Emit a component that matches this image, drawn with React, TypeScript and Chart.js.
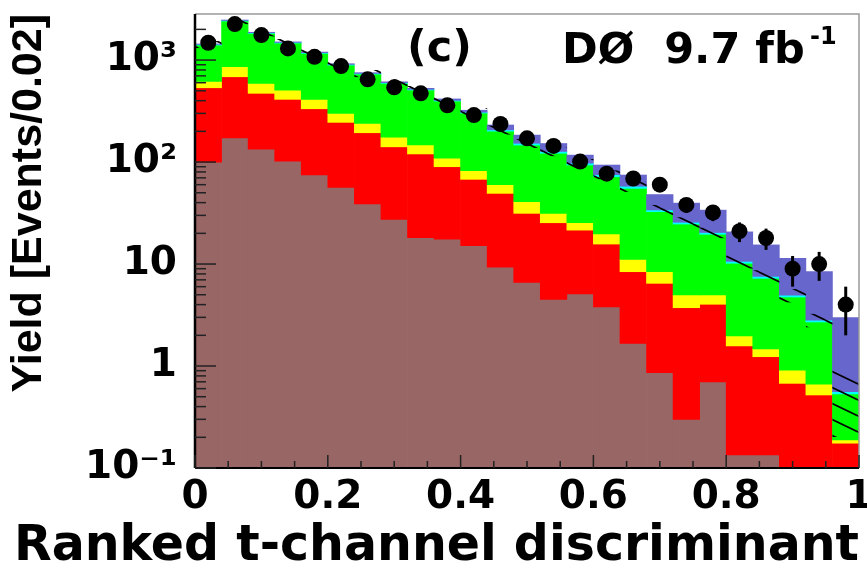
import { useEffect, useRef } from 'react';
import { Chart, registerables } from 'chart.js';

Chart.register(...registerables);

// ---- binning ----
const binLow = 0;
const binWidth = 0.04;
const nBins = 25;

// ---- tick labels / titles ----
const xTickLabels = ['0', '0.2', '0.4', '0.6', '0.8', '1'];
const yTickLabels: Record<string, string> = { '-1': '10⁻¹', '0': '1', '1': '10', '2': '10²', '3': '10³' };
const xTitle = 'Ranked t-channel discriminant';
const yTitle = 'Yield [Events/0.02]';

// ---- stacked prediction components (bottom to top) ----
const multijets = [100, 172, 134, 102, 75, 56.5, 38.8, 27.4, 18.1, 17.5, 15.1, 9.3, 6.6, 4.5, 5.1, 3.8, 1.67, 0.86, 0.3, 0.7, 0.134, 0.134, 0, 0, 0];
const ttbar = [435, 514, 338, 310, 258, 188.5, 155, 113.6, 102, 72.5, 52.6, 40, 24.8, 20.9, 16.4, 11.9, 6.74, 5.61, 3.43, 3.33, 1.44, 1.1, 0.676, 0.52, 0.175];
const zjetsDiboson = [83, 174, 119, 96, 79, 55, 45, 34, 27, 19, 14.5, 10.6, 9.4, 6, 3.9, 4, 2.69, 1.94, 1.24, 0.94, 0.4, 0.24, 0.234, 0.142, 0.013];
const wjets = [785, 1551, 1236, 960, 752, 593, 490, 416, 361, 287, 220, 141, 106, 90.6, 68.1, 52.1, 44.1, 24.2, 19.7, 14.6, 8.2, 5.77, 3.84, 2.04, 0.344];
const tb = [22, 35, 27, 22, 18, 14, 11, 9, 8, 7, 6, 6, 6, 5, 4, 3.5, 2.7, 1.3, 1.0, 0.8, 0.45, 0.32, 0.2, 0.12, 0.028];
const tqb = [15, 25, 20, 18, 16, 14, 13, 12, 12, 13, 14, 24, 31, 25, 19.5, 18.2, 16.7, 14.1, 13.9, 13.4, 10.05, 7.84, 6.45, 5.59, 2.43];

// relative uncertainty on background (hatched band)
const bkgUncertainty = [0.08, 0.08, 0.08, 0.08, 0.08, 0.08, 0.08, 0.08, 0.08, 0.08, 0.1, 0.1, 0.1, 0.1, 0.1, 0.1, 0.12, 0.12, 0.12, 0.12, 0.15, 0.15, 0.15, 0.15, 0.64];

// ---- observed data ----
const dataCounts = [1479, 2254, 1758, 1302, 1077, 873, 647, 540, 472, 360, 289, 236, 171, 144, 101, 77, 69, 60, 38, 32, 21, 18, 9, 10, 4];

const layerDefs = [
  { label: 'Multijets', values: multijets, color: '#996666' },
  { label: 'ttbar', values: ttbar, color: '#ff0000' },
  { label: 'Z+jets, dibosons', values: zjetsDiboson, color: '#ffff00' },
  { label: 'W+jets', values: wjets, color: '#00ff00' },
  { label: 'tb', values: tb, color: '#00ffff' },
  { label: 'tqb', values: tqb, color: '#6666cc' },
];

const Y_MIN = 0.1;
const Y_MAX = 2830;
const Y_FLOOR = 0.01;

const centers = Array.from({ length: nBins }, (_, i) => binLow + (i + 0.5) * binWidth);

function makeHatch(ctx: CanvasRenderingContext2D) {
  const c = document.createElement('canvas');
  c.width = 33;
  c.height = 16;
  const g = c.getContext('2d') as CanvasRenderingContext2D;
  g.strokeStyle = '#000';
  g.lineWidth = 1.6;
  for (const dy of [-16, 0, 16]) {
    g.beginPath();
    g.moveTo(0, dy);
    g.lineTo(33, dy + 16);
    g.stroke();
  }
  return ctx.createPattern(c, 'repeat');
}

const FONT_FAMILY = 'DejaVu Sans';

const decorPlugin = {
  id: 'rootDecor',
  afterDatasetsDraw(chart: any) {
    const { ctx, chartArea } = chart;
    const { left, right, top, bottom } = chartArea;
    const xs = chart.scales.x;
    const ys = chart.scales.y;
    ctx.save();

    // error bars on data
    ctx.strokeStyle = '#000';
    ctx.lineWidth = 3;
    dataCounts.forEach((n, i) => {
      if (n <= 0) return;
      const e = Math.sqrt(n);
      const px = xs.getPixelForValue(centers[i]);
      const y1 = ys.getPixelForValue(n + e);
      const y2 = ys.getPixelForValue(Math.max(n - e, Y_FLOOR));
      ctx.beginPath();
      ctx.moveTo(px, y1);
      ctx.lineTo(px, Math.min(y2, bottom));
      ctx.stroke();
    });

    // frame
    ctx.strokeStyle = '#999';
    ctx.lineWidth = 1.5;
    ctx.beginPath();
    ctx.moveTo(left, top);
    ctx.lineTo(right, top);
    ctx.lineTo(right, bottom);
    ctx.stroke();
    ctx.strokeStyle = '#000';
    ctx.lineWidth = 2.5;
    ctx.beginPath();
    ctx.moveTo(left, top);
    ctx.lineTo(left, bottom);
    ctx.stroke();
    ctx.lineWidth = 2;
    ctx.beginPath();
    ctx.moveTo(left, bottom);
    ctx.lineTo(right, bottom);
    ctx.stroke();

    // y ticks (inside)
    ctx.strokeStyle = '#222';
    ctx.lineWidth = 1.5;
    const e0 = Math.floor(Math.log10(ys.min));
    const e1 = Math.ceil(Math.log10(ys.max));
    for (let e = e0; e <= e1; e++) {
      for (let m = 1; m <= 9; m++) {
        const v = m * Math.pow(10, e);
        if (v < ys.min * 0.999 || v > ys.max) continue;
        const py = ys.getPixelForValue(v);
        const len = m === 1 ? 21 : 11;
        ctx.beginPath();
        ctx.moveTo(left, py);
        ctx.lineTo(left + len, py);
        ctx.stroke();
      }
    }
    // x ticks (inside)
    for (let k = 0; k <= 20; k++) {
      const v = k * 0.05;
      const px = xs.getPixelForValue(v);
      const len = k % 4 === 0 ? 13 : 7;
      ctx.beginPath();
      ctx.moveTo(px, bottom);
      ctx.lineTo(px, bottom - len);
      ctx.stroke();
    }

    // annotations
    ctx.fillStyle = '#000';
    ctx.textAlign = 'left';
    ctx.textBaseline = 'alphabetic';
    ctx.font = `bold 43px "${FONT_FAMILY}"`;
    ctx.fillText('(c)', 407, 61);
    ctx.fillText('DØ  9.7 fb', 562, 63);
    ctx.font = `bold 24px "${FONT_FAMILY}"`;
    ctx.fillText('-1', 810, 44);

    // x axis title (right-aligned at axis end, as ROOT does)
    ctx.font = `bold 49px "${FONT_FAMILY}"`;
    ctx.textAlign = 'right';
    ctx.fillText(xTitle, right, 560);

    ctx.restore();
  },
};

export default function App() {
  const canvasRef = useRef<HTMLCanvasElement | null>(null);

  useEffect(() => {
    document.body.style.margin = '0';
    document.body.style.background = '#fff';
    const canvas = canvasRef.current;
    if (!canvas) return;
    const ctx = canvas.getContext('2d') as CanvasRenderingContext2D;
    const hatch = makeHatch(ctx);

    const cum = new Array(nBins).fill(0);
    const barDatasets: any[] = layerDefs.map((layer, k) => {
      const data = centers.map((x, i) => {
        const lo = cum[i];
        const hi = cum[i] + layer.values[i];
        cum[i] = hi;
        return { x, y: [Math.max(lo, Y_FLOOR), Math.max(hi, Y_FLOOR)] };
      });
      return {
        type: 'bar',
        label: layer.label,
        data,
        backgroundColor: layer.color,
        borderWidth: 0,
        grouped: false,
        barPercentage: 1,
        categoryPercentage: 1,
        order: 10 - k,
        clip: 0,
      };
    });

    // background total = everything below tqb
    const bkgTotal = centers.map((_, i) => multijets[i] + ttbar[i] + zjetsDiboson[i] + wjets[i] + tb[i]);
    const bandDataset = {
      type: 'bar',
      label: 'uncertainty',
      data: centers.map((x, i) => ({
        x,
        y: [Math.max(bkgTotal[i] * (1 - bkgUncertainty[i]), Y_FLOOR), bkgTotal[i] * (1 + bkgUncertainty[i])],
      })),
      backgroundColor: hatch,
      borderWidth: 0,
      inflateAmount: 0,
      grouped: false,
      barPercentage: 1,
      categoryPercentage: 1,
      order: 1,
      clip: 0,
    };

    const dataDataset = {
      type: 'line',
      label: 'Data',
      data: centers.map((x, i) => ({ x, y: dataCounts[i] })),
      showLine: false,
      pointRadius: 8,
      pointHoverRadius: 8,
      pointBackgroundColor: '#000',
      pointBorderWidth: 0,
      borderColor: '#000',
      order: 0,
      clip: false,
    };

    const tickFont = { family: FONT_FAMILY, weight: 'bold' as const, size: 39 };

    const chart = new Chart(canvas, {
      type: 'bar',
      data: { datasets: [dataDataset as any, bandDataset as any, ...barDatasets] },
      plugins: [decorPlugin],
      options: {
        responsive: false,
        maintainAspectRatio: false,
        devicePixelRatio: 1,
        animation: false,
        events: [],
        layout: { padding: { top: 14, right: 8, left: 0, bottom: 0 } },
        plugins: { legend: { display: false }, tooltip: { enabled: false }, title: { display: false } },
        scales: {
          x: {
            type: 'linear',
            min: 0,
            max: 1,
            offset: false,
            grid: { display: false, drawTicks: false },
            border: { display: false },
            ticks: {
              stepSize: 0.05,
              autoSkip: false,
              maxRotation: 0,
              padding: 6,
              color: '#000',
              font: tickFont,
              callback: (v: any) => {
                const r = Number(v) / 0.2;
                const idx = Math.round(r);
                if (Math.abs(r - idx) < 1e-6) return xTickLabels[idx];
                return null;
              },
            },
            title: { display: false },
            afterFit: (s: any) => {
              s.height = 101;
              s.paddingLeft = 0;
              s.paddingRight = 0;
            },
          },
          y: {
            type: 'logarithmic',
            min: Y_MIN,
            max: Y_MAX,
            grid: { display: false, drawTicks: false },
            border: { display: false },
            ticks: {
              autoSkip: false,
              padding: 18,
              color: '#000',
              font: tickFont,
              callback: (v: any) => {
                const l = Math.log10(Number(v));
                const r = Math.round(l);
                if (Math.abs(l - r) < 1e-9) return yTickLabels[String(r)] ?? null;
                return null;
              },
            },
            title: {
              display: true,
              text: yTitle,
              align: 'end',
              color: '#000',
              font: { family: 'Liberation Sans', weight: 'bold', size: 43, lineHeight: 1 },
              padding: { top: 8, bottom: 0 },
            },
            afterFit: (s: any) => {
              s.width = 195;
              s.paddingTop = 0;
              s.paddingBottom = 0;
            },
          },
        },
      } as any,
    });

    return () => chart.destroy();
  }, []);

  return (
    <div style={{ width: 867, height: 569, position: 'relative' }}>
      <canvas ref={canvasRef} width={867} height={569} style={{ display: 'block', width: 867, height: 569 }} />
    </div>
  );
}
